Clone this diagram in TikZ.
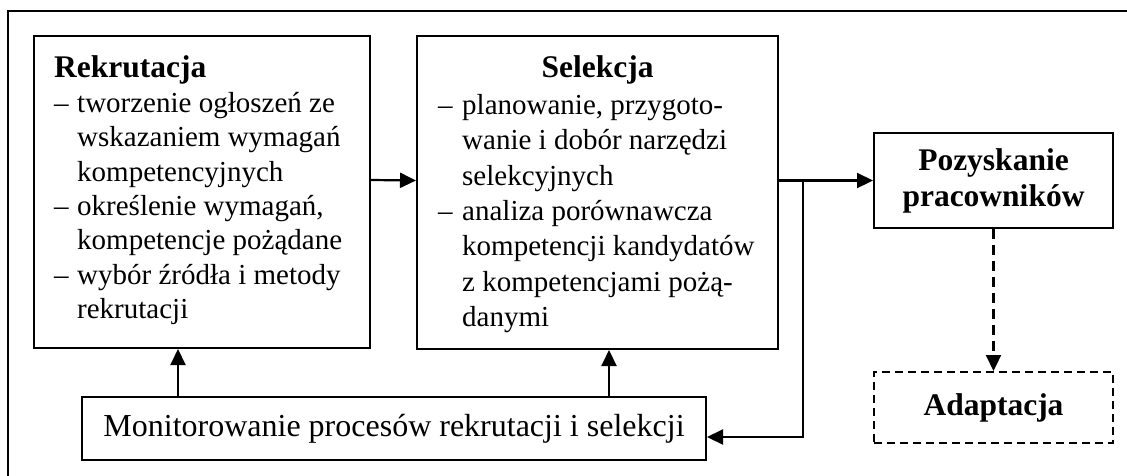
\documentclass[tikz,border=0pt]{standalone}
\usepackage{fontspec}
\setmainfont{Liberation Serif}
\usetikzlibrary{arrows.meta}

% hanging dash for list items and the matching indent for continued lines
\newcommand\itemdash[1]{\makebox[#1][l]{–}}
\newcommand\itemcont[1]{\hspace*{#1}}

\begin{document}
\begin{tikzpicture}[x=1pt,y=-1pt,
  box/.style={draw, line width=2pt, inner sep=0pt},
  dashbox/.style={box, dash pattern=on 8pt off 5pt},
  body/.style={align=left, inner sep=0pt, anchor=north west},
  title/.style={font=\fontsize{31.5}{36}\selectfont\bfseries, inner sep=0pt},
  arr/.style={line width=2.2pt, -{Triangle[length=16pt,width=15pt]}},
  dasharr/.style={arr, dash pattern=on 10pt off 6pt}]

\useasboundingbox (0,0) rectangle (1127,475);

% outer frame (runs past the page on the right and at the bottom)
\begin{scope}
  \clip (0,0) rectangle (1127,475);
  \draw[line width=2pt] (8,11) rectangle (1140,490);
\end{scope}

% boxes
\node[box, minimum width=336pt, minimum height=312pt] (rek) at (202,192) {};
\node[box, minimum width=361pt, minimum height=313pt] (sel) at (597.5,192.5) {};
\node[box, minimum width=239pt, minimum height=95pt, align=center,
      font=\fontsize{31.5}{36}\selectfont\bfseries] (poz) at (993.5,180.5)
      {Pozyskanie\\pracowników};
\node[dashbox, minimum width=239pt, minimum height=71pt,
      font=\fontsize{31.5}{36}\selectfont\bfseries] (ada) at (993.5,407.5) {Adaptacja};
\node[box, minimum width=624pt, minimum height=63pt,
      font=\fontsize{32}{36}\selectfont] (mon) at (394,428.5)
      {Monitorowanie procesów rekrutacji i selekcji};

% box contents
\node[title, anchor=base west] (rektitle) at (54,77) {Rekrutacja};
\node[body, font=\fontsize{29}{34.4}\selectfont] (rektxt) at (54,92) {%
  \itemdash{23pt}tworzenie ogłoszeń ze\\
  \itemcont{23pt}wskazaniem wymagań\\
  \itemcont{23pt}kompetencyjnych\\
  \itemdash{23pt}określenie wymagań,\\
  \itemcont{23pt}kompetencje pożądane\\
  \itemdash{23pt}wybór źródła i metody\\
  \itemcont{23pt}rekrutacji};

\node[title, anchor=base] (seltitle) at (597.5,77) {Selekcja};
\node[body, font=\fontsize{29}{35.4}\selectfont] (seltxt) at (438,94) {%
  \itemdash{24pt}planowanie, przygoto-\\
  \itemcont{24pt}wanie i dobór narzędzi\\
  \itemcont{24pt}selekcyjnych\\
  \itemdash{24pt}analiza porównawcza\\
  \itemcont{24pt}kompetencji kandydatów\\
  \itemcont{24pt}z kompetencjami pożą-\\
  \itemcont{24pt}danymi};

% connectors
\draw[arr] ([yshift=12pt]rek.east) -- ([yshift=12pt]sel.east -| sel.west);
\draw[arr] (sel.east |- poz.west) -- (poz.west);
\coordinate (branch) at ([xshift=24pt]sel.east |- poz.west);
\draw[arr] (branch) |- ([yshift=-8.5pt]mon.east);
\draw[arr] ([xshift=-24pt]rek.south |- mon.north) -- ([xshift=-24pt]rek.south);
\draw[arr] ([xshift=11.5pt]sel.south |- mon.north) -- ([xshift=11.5pt]sel.south);
\draw[dasharr] (poz.south) -- (ada.north);

\end{tikzpicture}
\end{document}
